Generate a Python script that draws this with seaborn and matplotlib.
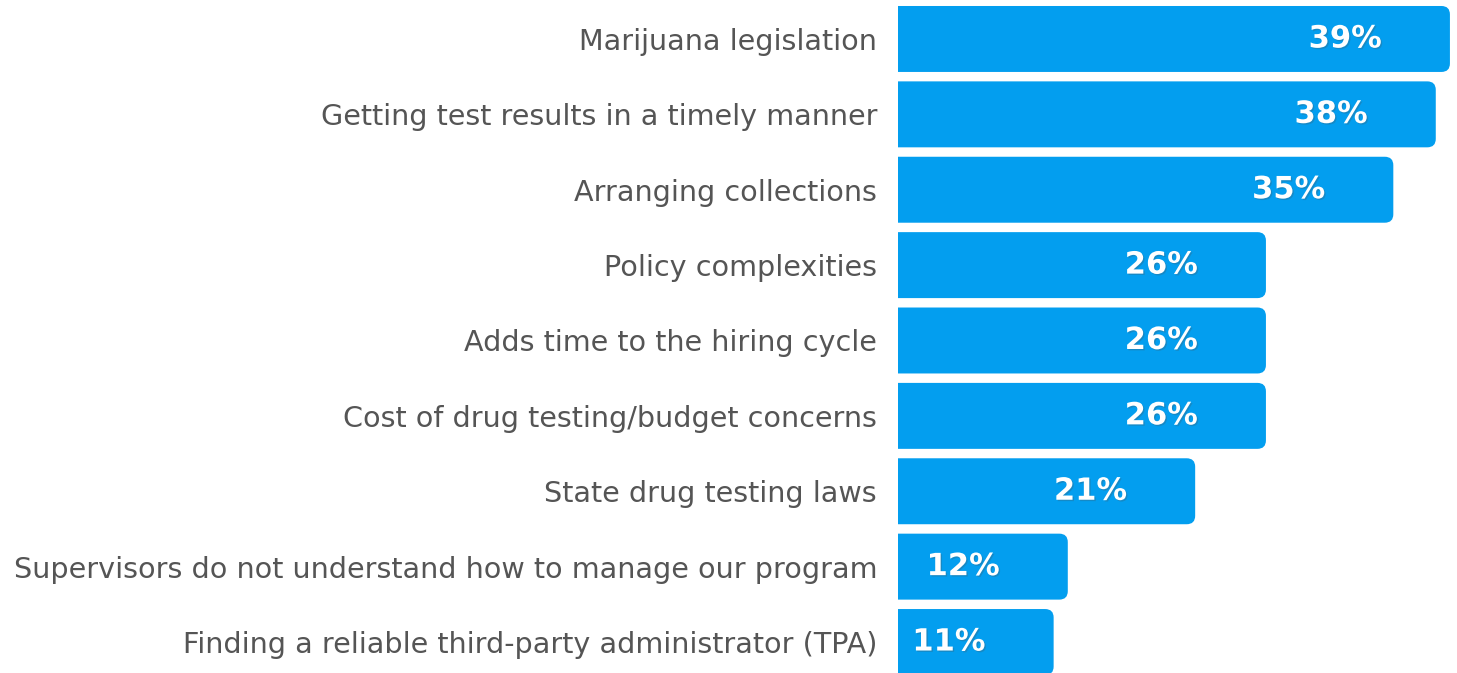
import pandas as pd
import matplotlib.pyplot as plt
import seaborn as sns
from matplotlib.patches import FancyBboxPatch
import matplotlib.patheffects as pe

# chart data
issues = [
    'Marijuana legislation',
    'Getting test results in a timely manner',
    'Arranging collections',
    'Policy complexities',
    'Adds time to the hiring cycle',
    'Cost of drug testing/budget concerns',
    'State drug testing laws',
    'Supervisors do not understand how to manage our program',
    'Finding a reliable third-party administrator (TPA)',
]
shares = [39, 38, 35, 26, 26, 26, 21, 12, 11]
share_labels = ['39%', '38%', '35%', '26%', '26%', '26%', '21%', '12%', '11%']

df = pd.DataFrame({'Issue': issues, 'Share': shares})

sns.set_style('white')
plt.rcParams['font.family'] = ['DejaVu Sans']

bar_color = '#039EEF'
fig = plt.figure(figsize=(14.57, 6.73), dpi=100)
ax = fig.add_axes([0.6163, 0.0, 0.3837, 1.0])

sns.barplot(data=df, x='Share', y='Issue', order=issues, color=bar_color,
            width=0.875, saturation=1, ax=ax)

ax.set_xlim(0, 39.5)
ax.set_ylim(8.411, -0.517)

# swap plain bars for bars with rounded corners (left side clipped)
for p in list(ax.patches):
    x0, y0 = p.get_x(), p.get_y()
    w, h = p.get_width(), p.get_height()
    p.remove()
    box = FancyBboxPatch((x0 - 1.0, y0), w + 1.0, h,
                         boxstyle='round,pad=0,rounding_size=0.6',
                         mutation_aspect=0.187,
                         facecolor=bar_color, edgecolor='none')
    ax.add_patch(box)

# value labels inside the bars
for i, (v, lab) in enumerate(zip(shares, share_labels)):
    ax.text(v - 7.4, i, lab, ha='center', va='center', color='white',
            fontsize=22, fontweight='bold',
            path_effects=[pe.withSimplePatchShadow(offset=(1, -1), alpha=0.25)])

ax.set_xlabel('')
ax.set_ylabel('')
ax.set_xticks([])
ax.tick_params(axis='y', length=0, pad=15, labelsize=20.6, labelcolor='#555555')
sns.despine(ax=ax, left=True, bottom=True)

plt.savefig('out.png', dpi=100)
